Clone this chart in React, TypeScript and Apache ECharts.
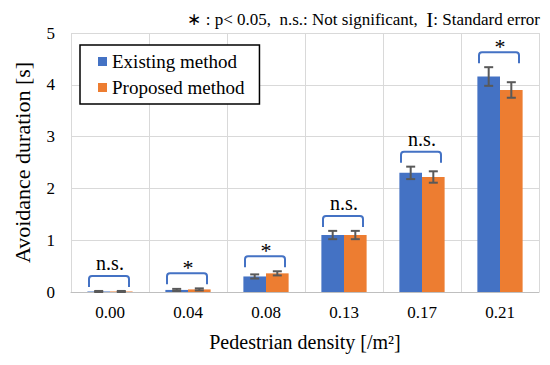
import React, { useEffect, useRef } from "react";
import * as echarts from "echarts";

const categories = ["0.00", "0.04", "0.08", "0.13", "0.17", "0.21"];
const existingValues = [0.01, 0.04, 0.30, 1.10, 2.30, 4.16];
const existingErrors = [0.01, 0.02, 0.04, 0.08, 0.12, 0.18];
const proposedValues = [0.01, 0.05, 0.36, 1.10, 2.22, 3.90];
const proposedErrors = [0.01, 0.02, 0.04, 0.08, 0.11, 0.15];
const significance = ["n.s.", "*", "*", "n.s.", "n.s.", "*"];
const yTicks = [0, 1, 2, 3, 4, 5];

const SERIF = "Liberation Serif";
const BLUE = "#4472C4";
const ORANGE = "#ED7D31";
const BAR_GAP = 0.42;

export default function App() {
  const ref = useRef<HTMLDivElement>(null);
  useEffect(() => {
    if (!ref.current) return;
    const chart = echarts.init(ref.current, undefined, { renderer: "svg" });

    const errorRender = (side: number) => (params: any, api: any) => {
      const idx = api.value(0);
      const v = api.value(1);
      const e = api.value(2);
      const catW = api.size([1, 0])[0];
      const barW = (catW * (1 - BAR_GAP)) / 2;
      const c = api.coord([idx, v]);
      const x = c[0] + side * barW / 2;
      const top = api.coord([idx, v + e])[1];
      const bot = api.coord([idx, Math.max(0, v - e)])[1];
      const cap = 4.5;
      const style = { stroke: "#595959", lineWidth: 2, fill: "none" };
      return {
        type: "group",
        children: [
          { type: "line", shape: { x1: x, y1: top, x2: x, y2: bot }, style },
          { type: "line", shape: { x1: x - cap, y1: top, x2: x + cap, y2: top }, style },
          { type: "line", shape: { x1: x - cap, y1: bot, x2: x + cap, y2: bot }, style },
        ],
      };
    };

    const bracketData = categories.map((_, i) => [
      i,
      Math.max(existingValues[i] + existingErrors[i], proposedValues[i] + proposedErrors[i]),
      significance[i],
    ]);

    const option: any = {
      animation: false,
      textStyle: { fontFamily: SERIF },
      grid: { left: 71, right: 11, top: 33, bottom: 73 },
      legend: {
        orient: "vertical",
        left: 80,
        top: 45,
        backgroundColor: "#fff",
        borderColor: "#000",
        borderWidth: 1.5,
        borderRadius: 0,
        padding: [7, 15, 7, 18],
        itemGap: 7,
        itemWidth: 9,
        itemHeight: 9,
        icon: "rect",
        textStyle: { fontFamily: SERIF, fontSize: 19, color: "#000" },
        data: ["Existing method", "Proposed method"],
      },
      xAxis: {
        type: "category",
        data: categories,
        name: "Pedestrian density [/m²]",
        nameLocation: "middle",
        nameGap: 40,
        nameTextStyle: { fontFamily: SERIF, fontSize: 20, color: "#000" },
        axisLine: { lineStyle: { color: "#bfbfbf", width: 1 } },
        axisTick: { show: false },
        axisLabel: { fontFamily: SERIF, fontSize: 17, color: "#000", margin: 12 },
        splitLine: { show: true, lineStyle: { color: "#d9d9d9", width: 1 } },
      },
      yAxis: {
        type: "value",
        min: 0,
        max: yTicks[yTicks.length - 1],
        interval: 1,
        name: "Avoidance duration [s]",
        nameLocation: "middle",
        nameGap: 38,
        nameTextStyle: { fontFamily: SERIF, fontSize: 22, color: "#000" },
        axisLine: { show: false },
        axisTick: { show: false },
        axisLabel: { fontFamily: SERIF, fontSize: 17, color: "#000", margin: 16 },
        splitLine: { show: true, lineStyle: { color: "#d9d9d9", width: 1 } },
      },
      series: [
        {
          name: "Existing method",
          type: "bar",
          data: existingValues,
          barGap: "0%",
          barCategoryGap: BAR_GAP * 100 + "%",
          itemStyle: { color: BLUE },
        },
        {
          name: "Proposed method",
          type: "bar",
          data: proposedValues,
          barGap: "0%",
          barCategoryGap: BAR_GAP * 100 + "%",
          itemStyle: { color: ORANGE },
        },
        {
          type: "custom",
          renderItem: errorRender(-1),
          data: categories.map((_, i) => [i, existingValues[i], existingErrors[i]]),
          z: 5,
          silent: true,
        },
        {
          type: "custom",
          renderItem: errorRender(1),
          data: categories.map((_, i) => [i, proposedValues[i], proposedErrors[i]]),
          z: 5,
          silent: true,
        },
        {
          type: "custom",
          z: 6,
          silent: true,
          data: bracketData,
          renderItem: (params: any, api: any) => {
            const idx = api.value(0);
            const topVal = api.value(1);
            const label = significance[idx];
            const c = api.coord([idx, topVal]);
            const cx = c[0] - 1;
            const y = c[1] - 15;
            const half = 20;
            const leg = 11;
            const r = 3;
            const x1 = cx - half;
            const x2 = cx + half;
            const d =
              `M${x1} ${y + leg} L${x1} ${y + r} Q${x1} ${y} ${x1 + r} ${y} ` +
              `L${x2 - r} ${y} Q${x2} ${y} ${x2} ${y + r} L${x2} ${y + leg}`;
            const isStar = label === "*";
            return {
              type: "group",
              children: [
                {
                  type: "path",
                  shape: { pathData: d },
                  style: { stroke: "#4472C4", lineWidth: 2, fill: "none" },
                },
                {
                  type: "text",
                  x: cx + 1,
                  y: isStar ? y + 5 : y - 3,
                  style: {
                    text: isStar ? "*" : label,
                    fontFamily: SERIF,
                    fontSize: isStar ? 22 : 20,
                    fill: "#000",
                    align: "center",
                    verticalAlign: "bottom",
                  },
                },
              ],
            };
          },
        },
      ],
      graphic: [
        {
          type: "text",
          right: 10,
          top: 9,
          style: {
            text: "{a|∗} : p< 0.05,  n.s.: Not significant,  {b|I}: Standard error",
            fontFamily: SERIF,
            fontSize: 17,
            fill: "#000",
            rich: {
              a: { fontFamily: SERIF, fontSize: 17, fill: "#000" },
              b: { fontFamily: SERIF, fontSize: 21, fill: "#000" },
            },
          },
        },
      ],
    };
    chart.setOption(option);
    return () => chart.dispose();
  }, []);
  return (
    <div
      ref={ref}
      style={{ position: "absolute", left: 0, top: 0, width: 550, height: 365 }}
    />
  );
}
